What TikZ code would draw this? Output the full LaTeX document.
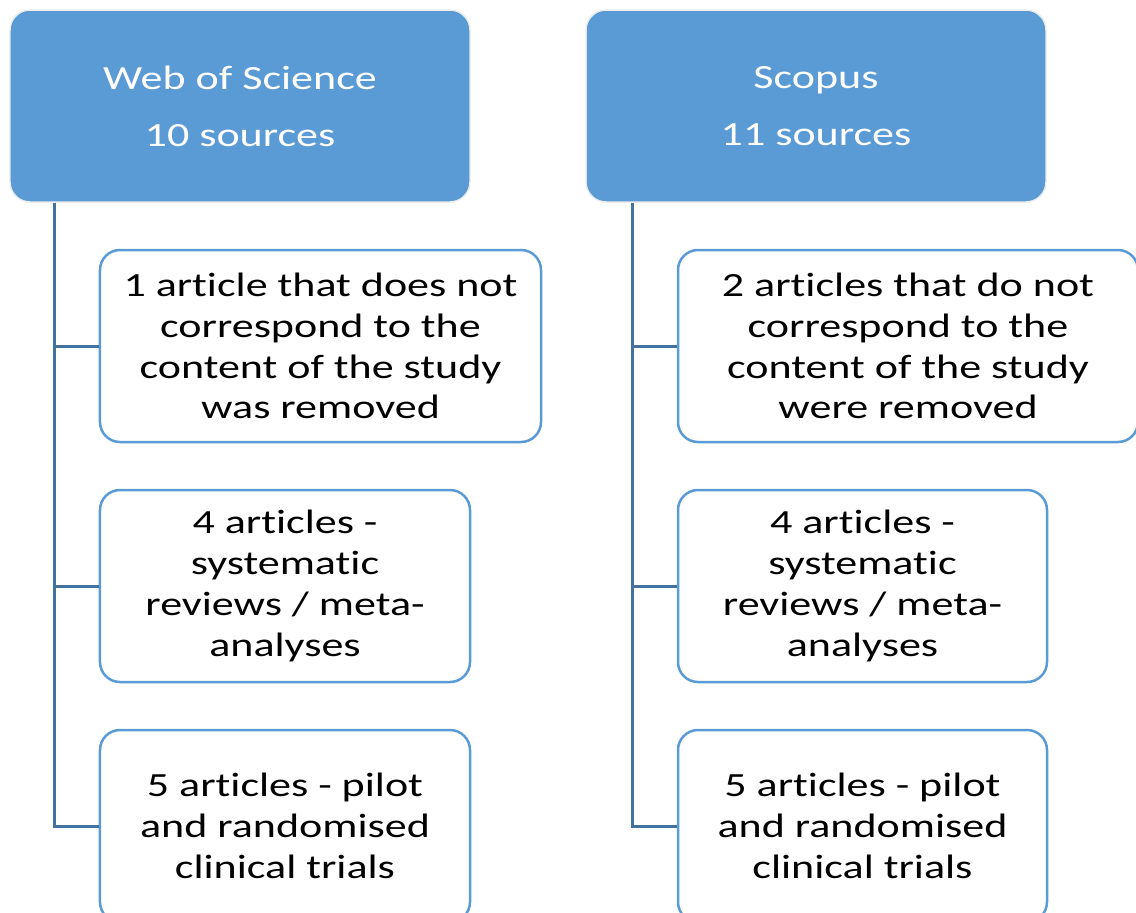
\documentclass[tikz,border=0pt]{standalone}
\usepackage{fontspec}
\setmainfont[FakeStretch=1.3, Ligatures=NoCommon]{Carlito}
\usepackage{tikz}
\usetikzlibrary{calc}
\definecolor{hdrblue}{RGB}{91,155,213}
\definecolor{linkblue}{RGB}{68,114,160}

\begin{document}
\begin{tikzpicture}[
    x=1bp, y=-1bp,
    header/.style={draw=gray!15, line width=1.5bp, fill=hdrblue, rounded corners=20bp, text=white, align=center, minimum width=460bp, minimum height=192bp, font=\fontsize{34}{41}\selectfont},
    item/.style={draw=hdrblue, line width=2.5bp, fill=white, rounded corners=20bp, align=center, minimum height=192bp, font=\fontsize{34}{41}\selectfont},
    link/.style={draw=linkblue, line width=3bp}
  ]
  \useasboundingbox (0,0) rectangle (1136,913);
  % database headers
  \node[header] (wos) at (240, 106) {Web of Science\\[16pt]10 sources};
  \node[header] (scopus) at (816, 106) {Scopus\\[16pt]11 sources};
  % Web of Science column
  \node[item, minimum width=441bp] (wosA) at (320.5, 346) {1 article that does not\\correspond to the\\content of the study\\was removed};
  \node[item, minimum width=370bp] (wosB) at (285, 586) {4 articles -\\systematic\\reviews / meta-\\analyses};
  \node[item, minimum width=370bp] (wosC) at (285, 826) {5 articles - pilot\\and randomised\\clinical trials};
  % Scopus column
  \node[item, minimum width=460bp] (scoA) at (908, 346) {2 articles that do not\\correspond to the\\content of the study\\were removed};
  \node[item, minimum width=369bp] (scoB) at (862.5, 586) {4 articles -\\systematic\\reviews / meta-\\analyses};
  \node[item, minimum width=369bp] (scoC) at (862.5, 826) {5 articles - pilot\\and randomised\\clinical trials};
  % tree lines
  \foreach \kid in {wosA, wosB, wosC}
    \draw[link] ([xshift=45bp]wos.south west) |- (\kid.west);
  \foreach \kid in {scoA, scoB, scoC}
    \draw[link] ([xshift=47bp]scopus.south west) |- (\kid.west);
\end{tikzpicture}
\end{document}
